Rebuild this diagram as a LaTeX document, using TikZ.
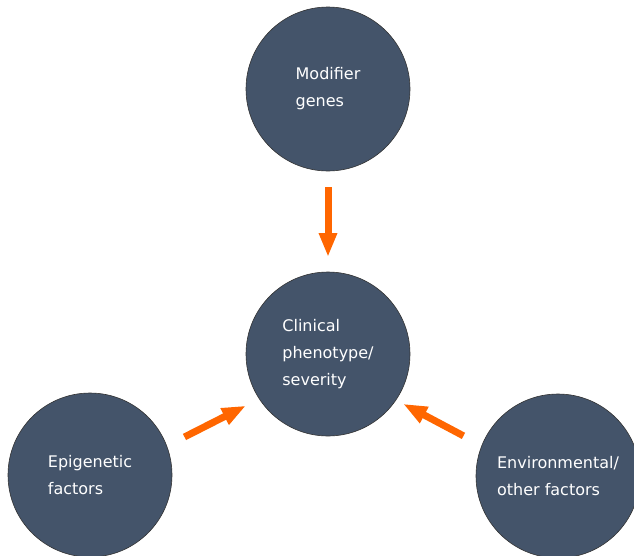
\documentclass[tikz,border=0pt]{standalone}
\usepackage{fontspec}
\setmainfont{DejaVu Sans}
\usetikzlibrary{arrows.meta}
\definecolor{slateblue}{RGB}{68,84,106}
\definecolor{arroworange}{RGB}{255,102,0}
\tikzset{
  factor/.style={
    % The shape:
    circle,
    % The size:
    minimum size=164pt,
    % The border:
    draw=black!80,line width=0.6pt,
    % The filling:
    fill=slateblue,
    % The text:
    text=white,align=left,
    font=\fontsize{16}{27}\selectfont},
  influence/.style={
    % The line:
    draw=arroworange,line width=7pt,
    % The tip:
    -{Triangle[width=17pt,length=24pt]}}
}

\begin{document}
\begin{tikzpicture}[x=1pt,y=-1pt]
  \useasboundingbox (0,0) rectangle (634,555);

  \node (modifier) [factor] at (328,89)  {Modifier\\genes};
  \node (clinical) [factor] at (328,354) {Clinical\\phenotype/\\severity};
  \node (epigen)   [factor] at (90,475)  {Epigenetic\\factors};
  \node (environ)  [factor] at (558,476) {Environmental/\\other factors};

  \draw [influence,shorten <=98pt,shorten >=97pt] (modifier.center) -- (clinical.center);
  \draw [influence,shorten <=106pt,shorten >=92pt]
    ([yshift=-10pt]epigen.center) -- ([yshift=-10pt]clinical.center);
  \draw [influence,shorten <=107pt,shorten >=85pt]
    ([yshift=-10pt]environ.center) -- ([yshift=-10pt]clinical.center);
\end{tikzpicture}
\end{document}
